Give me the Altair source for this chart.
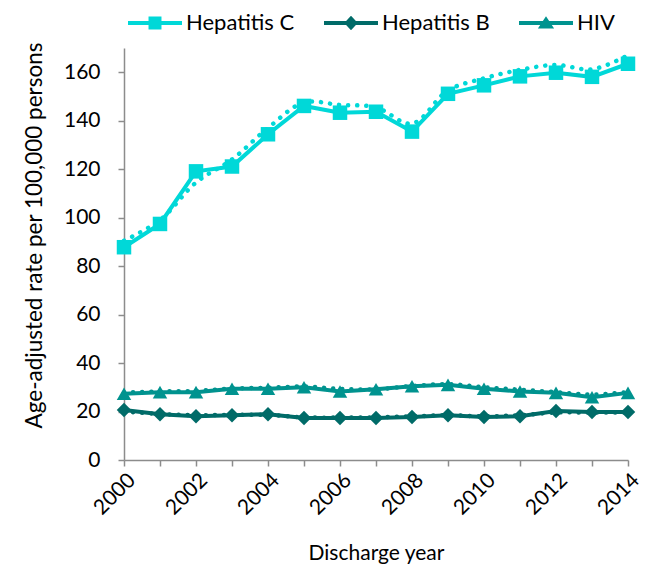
import altair as alt
import pandas as pd

years = list(range(2000, 2015))
series_names = ["Hepatitis C", "Hepatitis B", "HIV"]
hep_c = [87.8, 97.4, 119.1, 121.1, 134.4, 146.1, 143.3, 143.7, 135.5, 151.1, 154.6, 158.3, 159.8, 158.1, 163.5]
hep_b = [20.6, 18.9, 18.1, 18.5, 18.9, 17.3, 17.3, 17.3, 17.7, 18.5, 17.7, 18.1, 20.2, 19.8, 19.8]
hiv = [27.3, 28.0, 28.0, 29.4, 29.4, 30.0, 28.3, 29.2, 30.4, 31.0, 29.4, 28.3, 27.7, 25.9, 27.7]

# dotted companion series
hep_c_dot = [90.5, 99.0, 114.5, 124.0, 137.0, 147.5, 146.5, 145.5, 138.8, 152.5, 157.5, 161.0, 163.0, 161.2, 167.0]
hep_b_dot = [20.0, 19.0, 18.5, 18.6, 18.6, 17.6, 17.5, 17.6, 18.0, 18.5, 18.0, 18.5, 19.6, 19.6, 19.6]
hiv_dot = [27.8, 28.3, 28.5, 29.5, 29.8, 30.3, 29.3, 29.2, 30.5, 31.3, 30.0, 29.0, 28.0, 27.0, 28.0]

y_ticks = [0, 20, 40, 60, 80, 100, 120, 140, 160]

colors = ["#00D8D8", "#006B68", "#00938F"]
shapes = ["square", "diamond", "triangle-up"]
legend_shapes = [
    "M-1,-0.075H1V0.075H-1Z M-0.24,-0.24H0.24V0.24H-0.24Z",
    "M-1,-0.075H1V0.075H-1Z M-0.25,0L0,-0.27L0.25,0L0,0.27Z",
    "M-1,-0.075H1V0.075H-1Z M0,-0.25L0.3,0.2H-0.3Z",
]

rows = []
for name, vals in zip(series_names, [hep_c, hep_b, hiv]):
    for yr, v in zip(years, vals):
        rows.append({"year": yr, "rate": v, "series": name})
df = pd.DataFrame(rows)

drows = []
for name, vals in zip(series_names, [hep_c_dot, hep_b_dot, hiv_dot]):
    for yr, v in zip(years, vals):
        drows.append({"year": yr, "rate": v, "series": name})
ddf = pd.DataFrame(drows)

FONT = "Lato"

x_enc = alt.X(
    "year:Q",
    scale=alt.Scale(domain=[2000, 2014], nice=False, zero=False),
    axis=alt.Axis(
        values=years,
        format="d",
        labelExpr="datum.value % 2 == 0 ? datum.label : ''",
        labelAngle=-45,
        labelOverlap=False,
        labelFlush=False,
        labelPadding=3,
        title="Discharge year",
        titlePadding=24,
    ),
)
y_enc = alt.Y(
    "rate:Q",
    scale=alt.Scale(domain=[0, 170], nice=False),
    axis=alt.Axis(
        values=y_ticks,
        title="Age-adjusted rate per 100,000 persons",
        labelPadding=18,
        titlePadding=17,
        titleY=187,
        titleFontSize=22.5,
    ),
)
color_nolegend = alt.Color(
    "series:N", scale=alt.Scale(domain=series_names, range=colors), legend=None
)

base = alt.Chart(df)

lines = base.mark_line(strokeWidth=4).encode(x=x_enc, y=y_enc, color=color_nolegend, detail="series:N")

points = base.mark_point(filled=True, opacity=1, size=210).encode(
    x=x_enc,
    y=y_enc,
    color=color_nolegend,
    shape=alt.Shape("series:N", scale=alt.Scale(domain=series_names, range=shapes), legend=None),
)

dotted = (
    alt.Chart(ddf)
    .mark_line(strokeWidth=4.5, strokeDash=[0.1, 9], strokeCap="round", interpolate="catmull-rom")
    .encode(x=x_enc, y=y_enc, color=color_nolegend, detail="series:N")
)

leg = alt.Legend(
    title=None,
    orient="none",
    direction="horizontal",
    legendX=4,
    legendY=-52,
    symbolSize=2916,
    symbolStrokeWidth=0,
    symbolOpacity=1,
    labelFontSize=22,
    labelFont=FONT,
    labelColor="#000000",
    labelOffset=4,
    columnPadding=29,
    padding=0,
)

legend_layer = (
    base.transform_filter("false")
    .mark_point(filled=True)
    .encode(
        x=x_enc,
        y=y_enc,
        color=alt.Color("series:N", scale=alt.Scale(domain=series_names, range=colors), legend=leg),
        shape=alt.Shape("series:N", scale=alt.Scale(domain=series_names, range=legend_shapes), legend=leg),
    )
)

chart = (
    alt.layer(lines, dotted, points, legend_layer)
    .resolve_scale(color="independent", shape="independent")
    .properties(
        width=504,
        height=412,
        autosize=alt.AutoSizeParams(type="none"),
        padding={"left": 116, "top": 40, "right": 14, "bottom": 104},
    )
    .configure_view(stroke=None)
    .configure_axis(
        grid=False,
        domainColor="#8C8C8C",
        domainWidth=1.5,
        tickColor="#8C8C8C",
        tickWidth=1.5,
        tickSize=6,
        labelFont=FONT,
        labelFontSize=21,
        labelColor="#000000",
        titleFont=FONT,
        titleFontSize=21,
        titleFontWeight="normal",
        titleColor="#000000",
    )
)

chart.save("out.html", embed_options={"renderer": "svg", "actions": False})
